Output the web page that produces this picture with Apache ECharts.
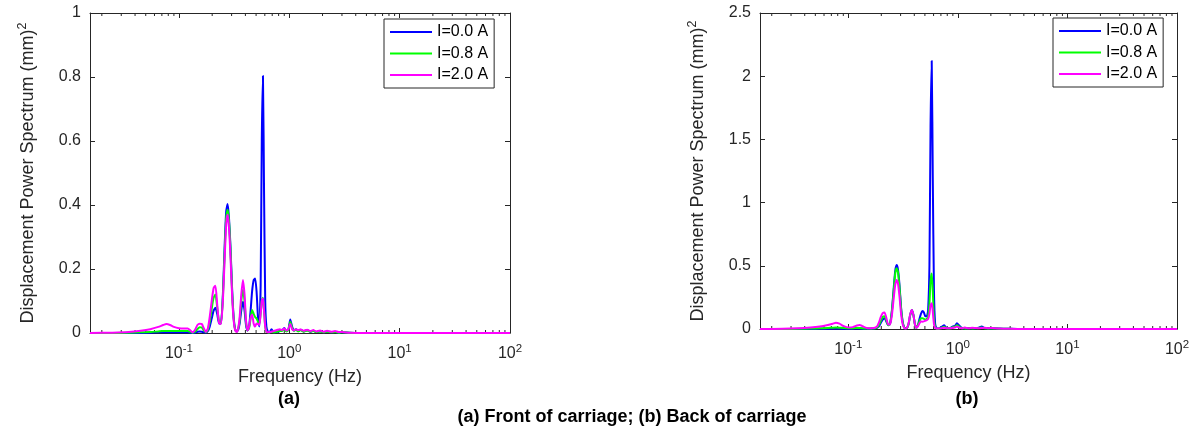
<!DOCTYPE html>
<html><head><meta charset="utf-8">
<script src="https://cdn.jsdelivr.net/npm/echarts@6/dist/echarts.min.js"></script>
<style>html,body{margin:0;padding:0;background:#fff}#c{width:1196px;height:428px}</style>
</head><body><div id="c"></div>
<script>
// ---------- DATA ----------
const seriesNames = ['I=0.0 A', 'I=0.8 A', 'I=2.0 A'];
const seriesColors = ['#0000FF', '#00FF00', '#FF00FF'];

const freq = [
  0.015625, 0.025, 0.035, 0.045, 0.055, 0.065, 0.072, 0.077, 0.083, 0.09, 0.1, 0.11, 0.12, 0.127, 0.133, 0.14, 0.147, 0.154, 0.161, 0.168, 0.175,
  0.183, 0.19, 0.198, 0.206, 0.214, 0.222, 0.231, 0.24, 0.25, 0.26, 0.268, 0.276, 0.284, 0.293, 0.303, 0.313, 0.323, 0.333, 0.344, 0.355, 0.367, 0.38, 0.393, 0.405, 0.418, 0.432, 0.446, 0.46, 0.475, 0.49, 0.505, 0.52, 0.535, 0.55, 0.563, 0.577, 0.59, 0.605, 0.62,
  0.64, 0.66, 0.69, 0.72, 0.75, 0.78, 0.82, 0.86, 0.9, 0.94, 0.98, 1.02, 1.06, 1.1, 1.15, 1.2, 1.27, 1.35, 1.45, 1.55, 1.65, 1.75, 1.9, 2.05, 2.2, 2.4, 2.6, 2.8, 3.0, 3.5, 5, 10, 30, 100
];

// (a) Front of carriage
const front_I00 = [
  0, 0, 0, 0, 0.001, 0.002, 0.002, 0.002, 0.002, 0.002, 0.002, 0.002, 0.002, 0.001, 0, 0.001, 0.004, 0.005, 0.004, 0.002, 0.001,
  0.006, 0.02, 0.045, 0.07, 0.079, 0.06, 0.03, 0.03, 0.12, 0.28, 0.38, 0.403, 0.36, 0.27, 0.14, 0.05, 0.012, 0.005, 0.01, 0.03, 0.07, 0.098, 0.07, 0.025, 0.008, 0.02, 0.07, 0.13, 0.165, 0.17, 0.13, 0.05, 0.02, 0.15, 0.6, 0.803, 0.45, 0.1, 0.02,
  0.004, 0.002, 0.012, 0.003, 0.002, 0.004, 0.006, 0.008, 0.016, 0.006, 0.01, 0.042, 0.02, 0.008, 0.012, 0.006, 0.01, 0.005, 0.009, 0.004, 0.007, 0.003, 0.005, 0.002, 0.004, 0.002, 0.003, 0.001, 0.002, 0.001, 0, 0, 0, 0
];
const front_I08 = [
  0, 0, 0.001, 0.002, 0.003, 0.005, 0.006, 0.006, 0.006, 0.006, 0.006, 0.006, 0.006, 0.004, 0.001, 0.004, 0.012, 0.018, 0.017, 0.008, 0.002,
  0.01, 0.035, 0.075, 0.11, 0.12, 0.08, 0.035, 0.03, 0.11, 0.26, 0.36, 0.385, 0.35, 0.26, 0.13, 0.045, 0.01, 0.004, 0.012, 0.04, 0.1, 0.135, 0.1, 0.035, 0.008, 0.015, 0.045, 0.072, 0.06, 0.05, 0.045, 0.035, 0.03, 0.06, 0.1, 0.11, 0.07, 0.02, 0.005,
  0.002, 0.001, 0.005, 0.002, 0.003, 0.005, 0.006, 0.007, 0.012, 0.005, 0.009, 0.035, 0.016, 0.007, 0.01, 0.005, 0.009, 0.004, 0.008, 0.004, 0.006, 0.003, 0.005, 0.002, 0.004, 0.002, 0.003, 0.001, 0.002, 0.001, 0, 0, 0, 0
];
const front_I20 = [
  0, 0.001, 0.003, 0.007, 0.012, 0.019, 0.025, 0.028, 0.025, 0.019, 0.015, 0.014, 0.014, 0.008, 0.002, 0.01, 0.025, 0.029, 0.028, 0.015, 0.003,
  0.015, 0.05, 0.1, 0.14, 0.148, 0.09, 0.03, 0.028, 0.1, 0.24, 0.34, 0.37, 0.33, 0.24, 0.12, 0.04, 0.008, 0.003, 0.015, 0.05, 0.12, 0.166, 0.12, 0.04, 0.008, 0.02, 0.05, 0.057, 0.03, 0.02, 0.03, 0.028, 0.025, 0.06, 0.1, 0.108, 0.07, 0.02, 0.005,
  0.002, 0.003, 0.004, 0.006, 0.008, 0.01, 0.012, 0.009, 0.014, 0.008, 0.012, 0.028, 0.012, 0.008, 0.012, 0.009, 0.011, 0.007, 0.01, 0.006, 0.009, 0.005, 0.008, 0.004, 0.007, 0.004, 0.006, 0.003, 0.003, 0.001, 0, 0, 0, 0
];

// (b) Back of carriage
const back_I00 = [
  0, 0, 0, 0, 0.001, 0.002, 0.003, 0.003, 0.003, 0.002, 0.002, 0.003, 0.004, 0.004, 0.003, 0.002, 0.002, 0.002, 0.003, 0.004, 0.006,
  0.01, 0.02, 0.05, 0.075, 0.085, 0.06, 0.03, 0.04, 0.15, 0.33, 0.46, 0.506, 0.47, 0.35, 0.17, 0.06, 0.015, 0.005, 0.01, 0.04, 0.11, 0.15, 0.11, 0.04, 0.01, 0.03, 0.08, 0.12, 0.142, 0.13, 0.1, 0.1, 0.15, 0.5, 1.6, 2.12, 1.2, 0.3, 0.04,
  0.005, 0.003, 0.01, 0.02, 0.03, 0.012, 0.005, 0.01, 0.02, 0.025, 0.045, 0.03, 0.015, 0.008, 0.006, 0.005, 0.008, 0.005, 0.006, 0.01, 0.02, 0.008, 0.005, 0.004, 0.006, 0.003, 0.002, 0.002, 0.001, 0, 0, 0, 0, 0
];
const back_I08 = [
  0, 0, 0.001, 0.003, 0.005, 0.008, 0.01, 0.011, 0.01, 0.008, 0.006, 0.006, 0.008, 0.008, 0.006, 0.004, 0.004, 0.004, 0.004, 0.004, 0.005,
  0.012, 0.03, 0.065, 0.095, 0.1, 0.07, 0.03, 0.04, 0.14, 0.31, 0.44, 0.48, 0.45, 0.33, 0.16, 0.055, 0.013, 0.005, 0.01, 0.04, 0.11, 0.148, 0.11, 0.04, 0.01, 0.03, 0.06, 0.085, 0.085, 0.08, 0.075, 0.08, 0.1, 0.2, 0.38, 0.44, 0.3, 0.08, 0.015,
  0.003, 0.002, 0.006, 0.012, 0.018, 0.008, 0.004, 0.008, 0.015, 0.018, 0.03, 0.02, 0.01, 0.006, 0.005, 0.004, 0.006, 0.004, 0.005, 0.008, 0.012, 0.006, 0.004, 0.003, 0.004, 0.002, 0.002, 0.001, 0.001, 0, 0, 0, 0, 0
];
const back_I20 = [
  0, 0.002, 0.006, 0.012, 0.02, 0.032, 0.042, 0.05, 0.042, 0.025, 0.012, 0.015, 0.028, 0.032, 0.025, 0.015, 0.008, 0.006, 0.006, 0.008, 0.01,
  0.02, 0.05, 0.095, 0.125, 0.13, 0.09, 0.035, 0.035, 0.11, 0.25, 0.35, 0.388, 0.36, 0.26, 0.12, 0.04, 0.01, 0.004, 0.012, 0.045, 0.115, 0.15, 0.11, 0.04, 0.01, 0.02, 0.045, 0.06, 0.058, 0.06, 0.065, 0.07, 0.08, 0.12, 0.19, 0.203, 0.14, 0.04, 0.008,
  0.004, 0.003, 0.005, 0.008, 0.01, 0.006, 0.005, 0.006, 0.01, 0.012, 0.02, 0.012, 0.008, 0.006, 0.012, 0.008, 0.006, 0.01, 0.008, 0.006, 0.008, 0.01, 0.006, 0.008, 0.005, 0.003, 0.002, 0.002, 0.001, 0, 0, 0, 0, 0
];

const xTickExponents = [-1, 0, 1, 2];
const minorTickFreqs = [
  0.02, 0.03, 0.04, 0.05, 0.06, 0.07, 0.08, 0.09,
  0.2, 0.3, 0.4, 0.5, 0.6, 0.7, 0.8, 0.9,
  2, 3, 4, 5, 6, 7, 8, 9,
  20, 30, 40, 50, 60, 70, 80, 90
];
const xMin = 0.015625, xMax = 100;
const yMaxFront = 1, yStepFront = 0.2;
const yMaxBack = 2.5, yStepBack = 0.5;
const xAxisTitle = 'Frequency (Hz)';
const yAxisTitle = 'Displacement Power Spectrum (mm)';
const yAxisTitleSup = '2';
const panelLabels = ['(a)', '(b)'];
const captionText = '(a) Front of carriage; (b) Back of carriage';

// ---------- CHART ----------
const FONT = "'Liberation Sans', Arial, Helvetica, sans-serif";
const AX = '#262626';
const TXT = '#262626';

const grids = [
  { left: 90, top: 13, width: 420, height: 320 },
  { left: 760, top: 13, width: 417, height: 316 }
];

function xLabel(v) {
  const lg = Math.log10(v);
  const e = Math.round(lg);
  if (Math.abs(lg - e) > 1e-6 || xTickExponents.indexOf(e) < 0) return '';
  return '{b|10}{s|' + e + '}';
}
const xRich = {
  b: { fontSize: 16, fontFamily: FONT, color: TXT, lineHeight: 22 },
  s: { fontSize: 11.5, fontFamily: FONT, color: TXT, lineHeight: 12, verticalAlign: 'top' }
};
const yRich = {
  m: { fontSize: 18, fontFamily: FONT, color: TXT, lineHeight: 24 },
  s: { fontSize: 12.5, fontFamily: FONT, color: TXT, lineHeight: 12, verticalAlign: 'top' }
};

function bottomX(gi) {
  return {
    type: 'log', logBase: 10, gridIndex: gi, min: xMin, max: xMax, position: 'bottom',
    axisLine: { show: true, onZero: false, lineStyle: { color: AX, width: 1 } },
    axisTick: { show: true, inside: true, length: 5, lineStyle: { color: AX } },
    axisLabel: { formatter: xLabel, rich: xRich, margin: 10, showMinLabel: false },
    splitLine: { show: false },
    name: xAxisTitle, nameLocation: 'middle', nameGap: 35,
    nameTextStyle: { fontSize: 18, fontFamily: FONT, color: TXT }
  };
}
function topX(gi) {
  return {
    type: 'log', logBase: 10, gridIndex: gi, min: xMin, max: xMax, position: 'top',
    axisLine: { show: true, onZero: false, lineStyle: { color: AX, width: 1 } },
    axisTick: { show: true, inside: true, length: 5, lineStyle: { color: AX } },
    axisLabel: { show: false }, splitLine: { show: false }
  };
}
function leftY(gi, max, step) {
  return {
    type: 'value', gridIndex: gi, min: 0, max: max, interval: step, position: 'left',
    axisLine: { show: true, lineStyle: { color: AX, width: 1 } },
    axisTick: { show: true, inside: true, length: 5, lineStyle: { color: AX } },
    axisLabel: { fontSize: 16, fontFamily: FONT, color: TXT, margin: 9 },
    splitLine: { show: false },
    name: '{m|' + yAxisTitle + '}{s|' + yAxisTitleSup + '}',
    nameLocation: 'middle', nameGap: 50,
    nameTextStyle: { rich: yRich }
  };
}
function rightY(gi, max, step) {
  return {
    type: 'value', gridIndex: gi, min: 0, max: max, interval: step, position: 'right',
    axisLine: { show: true, lineStyle: { color: AX, width: 1 } },
    axisTick: { show: true, inside: true, length: 5, lineStyle: { color: AX } },
    axisLabel: { show: false }, splitLine: { show: false }
  };
}

function lineSeries(name, color, values, axisIdx) {
  return {
    type: 'line', name: name, xAxisIndex: axisIdx, yAxisIndex: axisIdx,
    data: freq.map((f, i) => [f, values[i]]),
    symbol: 'none', showSymbol: false, smooth: 0.2,
    lineStyle: { color: color, width: 2, join: 'round' }, itemStyle: { color: color },
    clip: false, animation: false, z: 3
  };
}
function minorTickSeries(axisIdx) {
  return {
    type: 'custom', xAxisIndex: axisIdx, yAxisIndex: axisIdx, silent: true, animation: false, z: 1,
    clip: false,
    data: minorTickFreqs.map(f => [f, 0]),
    encode: { x: 0, y: 1 },
    renderItem: function (params, api) {
      const x = api.coord([api.value(0), 0])[0];
      const cs = params.coordSys;
      const st = { stroke: AX, lineWidth: 1 };
      return {
        type: 'group', children: [
          { type: 'line', shape: { x1: x, y1: cs.y + cs.height, x2: x, y2: cs.y + cs.height - 3 }, style: st },
          { type: 'line', shape: { x1: x, y1: cs.y, x2: x, y2: cs.y + 3 }, style: st }
        ]
      };
    }
  };
}

function legendAt(left, top) {
  return {
    data: seriesNames, orient: 'vertical', left: left, top: top,
    icon: 'rect', itemWidth: 42, itemHeight: 2, itemGap: 3.5,
    padding: [4, 6, 4, 6], backgroundColor: '#fff',
    borderColor: AX, borderWidth: 1, borderRadius: 0,
    textStyle: { fontSize: 16, fontFamily: FONT, color: '#000', lineHeight: 18 },
    selectedMode: false
  };
}

const option = {
  backgroundColor: '#fff',
  animation: false,
  grid: grids.map(g => Object.assign({ containLabel: false }, g)),
  xAxis: [bottomX(0), bottomX(1), topX(0), topX(1)],
  yAxis: [leftY(0, yMaxFront, yStepFront), leftY(1, yMaxBack, yStepBack), rightY(0, yMaxFront, yStepFront), rightY(1, yMaxBack, yStepBack)],
  legend: [legendAt(384, 19), legendAt(1053, 18)],
  series: [
    minorTickSeries(0), minorTickSeries(1),
    lineSeries(seriesNames[0], seriesColors[0], front_I00, 0),
    lineSeries(seriesNames[1], seriesColors[1], front_I08, 0),
    lineSeries(seriesNames[2], seriesColors[2], front_I20, 0),
    lineSeries(seriesNames[0], seriesColors[0], back_I00, 1),
    lineSeries(seriesNames[1], seriesColors[1], back_I08, 1),
    lineSeries(seriesNames[2], seriesColors[2], back_I20, 1)
  ],
  graphic: [
    { type: 'text', x: 289, y: 399, style: { text: panelLabels[0], font: 'bold 18px ' + FONT, fill: '#000', align: 'center', verticalAlign: 'middle' } },
    { type: 'text', x: 967, y: 399, style: { text: panelLabels[1], font: 'bold 18px ' + FONT, fill: '#000', align: 'center', verticalAlign: 'middle' } },
    { type: 'text', x: 632, y: 417, style: { text: captionText, font: 'bold 18px ' + FONT, fill: '#000', align: 'center', verticalAlign: 'middle' } }
  ]
};

const chart = echarts.init(document.getElementById('c'), null, { renderer: 'canvas' });
chart.setOption(option);
</script></body></html>
